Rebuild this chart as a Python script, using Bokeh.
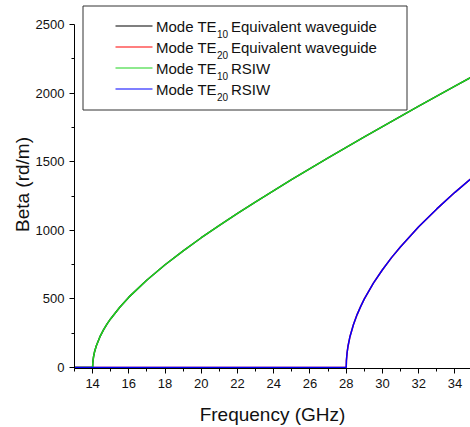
from bokeh.plotting import figure
from bokeh.models import FixedTicker, Range1d
from bokeh.embed import file_html
from bokeh.resources import INLINE
from bokeh.core.properties import value

# ---- data ----
freq_te10 = [13, 14, 14.01, 14.05, 14.1, 14.2, 14.4, 14.6, 14.8, 15, 15.5, 16, 17, 18, 19,
             20, 21, 22, 23, 24, 25, 26, 27, 28, 29, 30, 31, 32, 33, 34, 35]
beta_te10_rsiw = [0, 0, 35, 78, 111, 157, 223, 274, 318, 356, 440, 513, 638, 749, 850,
                  946, 1036, 1123, 1208, 1290, 1371, 1450, 1528, 1605, 1681, 1756, 1831,
                  1905, 1978, 2051, 2124]
beta_te10_wg = [0, 0, 35, 78, 111, 157, 223, 274, 318, 356, 440, 513, 638, 749, 850,
                946, 1036, 1123, 1208, 1290, 1371, 1450, 1528, 1605, 1681, 1756, 1831,
                1905, 1978, 2051, 2124]

freq_te20 = [13, 28, 28.01, 28.05, 28.1, 28.2, 28.4, 28.6, 28.8, 29, 29.5, 30, 30.5,
             31, 32, 33, 34, 35]
beta_te20_rsiw = [0, 0, 50, 111, 157, 222, 314, 386, 446, 500, 615, 713, 801,
                  881, 1026, 1156, 1277, 1390]
beta_te20_wg = [0, 0, 50, 111, 157, 222, 314, 386, 446, 500, 615, 713, 801,
                881, 1026, 1156, 1277, 1390]

x_ticks = [14, 16, 18, 20, 22, 24, 26, 28, 30, 32, 34]
x_minor_ticks = [13, 15, 17, 19, 21, 23, 25, 27, 29, 31, 33, 35]
y_ticks = [0, 500, 1000, 1500, 2000, 2500]
y_minor_ticks = [250, 750, 1250, 1750, 2250]

legend_main = ["Mode TE", "Mode TE", "Mode TE", "Mode TE"]
legend_sub = ["10", "20", "10", "20"]
legend_rest = ["Equivalent waveguide", "Equivalent waveguide", "RSIW", "RSIW"]
series_colors = ["#000000", "#ff0000", "#1ed41e", "#0000ff"]

# ---- layout ----
W, H = 470, 427
X0, X1 = 13, 34.86
Y0, Y1 = -7, 2675
FRAME_L, FRAME_B = 74, 368   # pixel coords of frame left / bottom
FRAME_W, FRAME_H = 396, 368


def fx(px):
    return X0 + (px - FRAME_L) * (X1 - X0) / FRAME_W


def fy(py):
    return Y0 + (FRAME_B - py) * (Y1 - Y0) / FRAME_H


FONT = "Liberation Sans"

p = figure(width=W, height=H, x_range=Range1d(X0, X1), y_range=Range1d(Y0, Y1),
           output_backend="svg", toolbar_location=None,
           min_border_left=74, min_border_right=0, min_border_top=0, min_border_bottom=59,
           x_axis_label="Frequency (GHz)", y_axis_label="Beta (rd/m)")

p.outline_line_color = None
p.xgrid.visible = False
p.ygrid.visible = False
p.background_fill_color = "white"
p.border_fill_color = "white"

p.xaxis.ticker = FixedTicker(ticks=x_ticks, minor_ticks=x_minor_ticks)
p.yaxis.ticker = FixedTicker(ticks=y_ticks, minor_ticks=y_minor_ticks)
p.yaxis.bounds = (Y0, 2500)

for ax in (p.xaxis[0], p.yaxis[0]):
    ax.axis_line_color = "black"
    ax.axis_line_width = 1
    ax.major_tick_line_color = "black"
    ax.minor_tick_line_color = "black"
    ax.major_tick_in = 0
    ax.major_tick_out = 5
    ax.minor_tick_in = 0
    ax.minor_tick_out = 3
    ax.major_label_text_font = FONT
    ax.major_label_text_font_size = "13px"
    ax.major_label_text_color = "#111111"
    ax.major_label_standoff = 5
    ax.axis_label_text_font = FONT
    ax.axis_label_text_font_size = "19px"
    ax.axis_label_text_font_style = "normal"
    ax.axis_label_text_color = "#111111"

p.xaxis.axis_label_standoff = 13
p.yaxis.axis_label_standoff = 0

# ---- curves ----
p.line(freq_te10, beta_te10_wg, line_color=series_colors[0], line_width=1.5)
p.line(freq_te20, beta_te20_wg, line_color=series_colors[1], line_width=1.5)
p.line(freq_te10, beta_te10_rsiw, line_color=series_colors[2], line_width=1.5)
p.line(freq_te20, beta_te20_rsiw, line_color=series_colors[3], line_width=1.5)

# ---- legend (drawn by hand to get real subscripts) ----
p.quad(left=fx(82.5), right=fx(406.5), top=fy(5.5), bottom=fy(109.5),
       fill_color="white", line_color="#333333", line_width=1)

rows = [25.5, 46.5, 67.5, 88.5]
p.segment(x0=[fx(115)] * 4, x1=[fx(152)] * 4, y0=[fy(r) for r in rows],
          y1=[fy(r) for r in rows], line_color=series_colors, line_width=1.2)
p.text(x=[fx(155.5)] * 4, y=[fy(r + 0.8) for r in rows], text=legend_main,
       text_font=value(FONT), text_font_size="15px", text_baseline="middle",
       text_align="left", text_color="#111111")
p.text(x=[fx(216.5)] * 4, y=[fy(r + 8.4) for r in rows], text=legend_sub,
       text_font=value(FONT), text_font_size="10px", text_baseline="middle",
       text_align="left", text_color="#111111")
p.text(x=[fx(230.5)] * 4, y=[fy(r + 0.8) for r in rows], text=legend_rest,
       text_font=value(FONT), text_font_size="15px", text_baseline="middle",
       text_align="left", text_color="#111111")

open("out.html", "w").write(file_html(p, INLINE))
